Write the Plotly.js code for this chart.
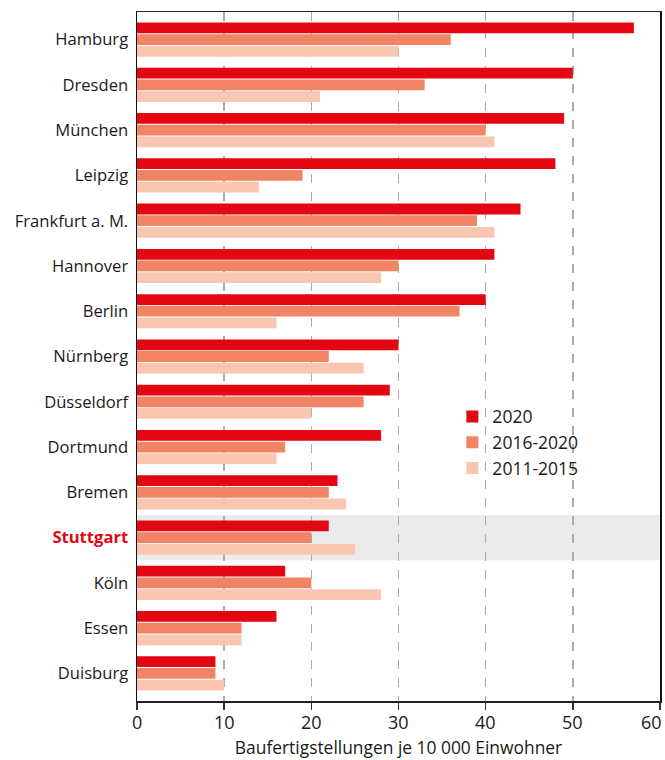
<!DOCTYPE html>
<html>
<head>
<meta charset="utf-8">
<script src="https://cdn.plot.ly/plotly-3.0.1.min.js"></script>
<style>html,body{margin:0;padding:0;background:#fff;}#chart{width:665px;height:760px;}</style>
</head>
<body>
<div id="chart"></div>
<script>
const cities = ["Hamburg","Dresden","München","Leipzig","Frankfurt a. M.","Hannover","Berlin","Nürnberg","Düsseldorf","Dortmund","Bremen","Stuttgart","Köln","Essen","Duisburg"];
const v2020 = [57,50,49,48,44,41,40,30,29,28,23,22,17,16,9];
const v2016_2020 = [36,33,40,19,39,30,37,22,26,17,22,20,20,12,9];
const v2011_2015 = [30,21,41,14,41,28,16,26,20,16,24,25,28,12,10];
const seriesNames = ["2020","2016-2020","2011-2015"];
const seriesColors = ["#E30613","#F18465","#F9C6B1"];
const xTickVals = [0,10,20,30,40,50,60];
const xTickLabels = ["0","10","20","30","40","50","60"];
const highlight = "Stuttgart";
const xTitle = "Baufertigstellungen je 10 000 Einwohner";

const values = [v2020, v2016_2020, v2011_2015];
const traces = values.map((v, i) => ({
  type: "bar", orientation: "h",
  y: cities, x: v, name: seriesNames[i],
  marker: {color: seriesColors[i], line: {width: 0}},
  hoverinfo: "x+y+name"
}));

const hi = cities.indexOf(highlight);
const tickText = cities.map(c => c === highlight ? '<b><span style="color:#E30613">' + c + '</span></b>' : c);

// x tick labels as annotations on the x scale, so the last one can stay inside the page edge
const last = xTickVals.length - 1;
const xLabelAnnots = xTickVals.map((v, i) => ({
  x: v, xref: "x", y: 0, yref: "paper", yanchor: "top", yshift: -8,
  xanchor: i === last ? "right" : "center", xshift: i === last ? 3 : 0,
  text: xTickLabels[i], showarrow: false, borderpad: 0,
  font: {size: 18, color: "#1a1a1a"}
}));

const layout = {
  width: 665, height: 760,
  margin: {l: 137, r: 5, t: 12, b: 59},
  paper_bgcolor: "#fff", plot_bgcolor: "#fff",
  font: {family: "Open Sans, sans-serif", size: 17, color: "#1a1a1a"},
  barmode: "group", bargap: 0.225, bargroupgap: 0.08,
  showlegend: true,
  legend: {x: 0.603, y: 0.439, xanchor: "left", yanchor: "top", traceorder: "normal",
           font: {size: 17.5, color: "#1a1a1a"}, bgcolor: "rgba(0,0,0,0)", tracegroupgap: 0},
  xaxis: {range: [0, 60], tickvals: xTickVals, showticklabels: false, showgrid: true, gridcolor: "#ababab", gridwidth: 1.5,
          griddash: "dash", zeroline: false, showline: true, linecolor: "#222", linewidth: 1.5,
          mirror: true, ticks: "outside", ticklen: 7, tickcolor: "#333", tickwidth: 1.5,
          title: {text: xTitle, font: {size: 17.4, color: "#1a1a1a"}, standoff: 33}},
  yaxis: {type: "category", categoryorder: "array", categoryarray: cities,
          range: [cities.length - 1 + 0.61, -0.61], showgrid: false, zeroline: false,
          showline: true, linecolor: "#111", linewidth: 1.5, mirror: true, ticks: "",
          tickvals: cities, ticktext: tickText, ticklabelstandoff: 4,
          tickfont: {size: 16.6, color: "#1a1a1a"}},
  annotations: xLabelAnnots,
  shapes: [{type: "rect", xref: "paper", x0: 0, x1: 1, yref: "y", y0: hi - 0.5, y1: hi + 0.5,
            fillcolor: "#EBEBEB", line: {width: 0}, layer: "below"}]
};

Plotly.newPlot("chart", traces, layout, {displayModeBar: false, staticPlot: true});
</script>
</body>
</html>
